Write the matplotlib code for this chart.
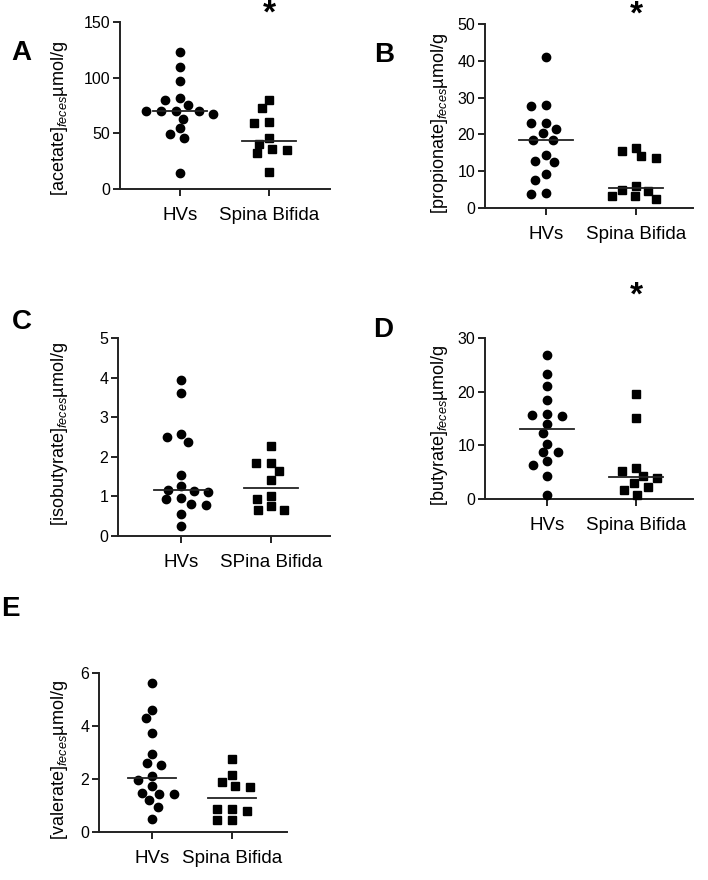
import matplotlib
import numpy as np

matplotlib.use("AGG")

import matplotlib.pyplot as plt  # isort:skip

W, H = 708, 880

plt.rcParams["font.family"] = ["Liberation Sans", "DejaVu Sans"]
plt.rcParams["mathtext.fontset"] = "custom"
plt.rcParams["mathtext.rm"] = "Liberation Sans"
plt.rcParams["mathtext.it"] = "Liberation Sans:italic"

# group labels
GROUPS = ["HVs", "Spina Bifida"]
GROUPS_C = ["HVs", "SPina Bifida"]

# values (umol/g)
acetate_hv = [123, 110, 97, 82, 80, 75, 70, 70, 70, 70, 67, 63, 55, 49, 46, 14]
acetate_sb = [80, 73, 60, 59, 46, 40, 36, 35, 32, 15]

propionate_hv = [41.1, 28.0, 27.8, 23.2, 23.2, 21.4, 20.3, 18.5, 18.4, 14.5,
                 12.9, 12.4, 9.3, 7.7, 4.2, 3.8]
propionate_sb = [16.3, 15.6, 14.0, 13.7, 5.9, 5.0, 4.5, 3.3, 3.2, 2.4]

isobutyrate_hv = [3.95, 3.61, 2.57, 2.50, 2.37, 1.54, 1.26, 1.16, 1.14, 1.10,
                  0.97, 0.93, 0.80, 0.78, 0.56, 0.24]
isobutyrate_sb = [2.28, 1.84, 1.84, 1.65, 1.42, 1.01, 0.93, 0.76, 0.66, 0.66]

butyrate_hv = [26.9, 23.2, 21.0, 18.5, 15.9, 15.7, 15.5, 13.9, 12.3, 10.3,
               8.7, 8.7, 7.1, 6.4, 4.2, 0.8]
butyrate_sb = [19.6, 15.1, 5.8, 5.3, 4.3, 3.9, 2.9, 2.2, 1.7, 0.8]

valerate_hv = [5.62, 4.62, 4.31, 3.75, 2.94, 2.62, 2.51, 2.12, 1.97, 1.74,
               1.49, 1.44, 1.43, 1.19, 0.93, 0.49]
valerate_sb = [2.76, 2.15, 1.90, 1.75, 1.69, 0.86, 0.86, 0.80, 0.46, 0.46]

STAR_PT = 24


def px_rect(left, top, right, bottom):
    return [left / W, 1 - bottom / H, (right - left) / W, (bottom - top) / H]


def swarm_x(ax, values, center, sx=15.0, sy=9.0):
    """Beeswarm offsets (elliptic collision, pixel space) in data units."""
    vals = np.asarray(values, dtype=float)
    pts = ax.transData.transform(np.column_stack([np.full(len(vals), center), vals]))
    ys = pts[:, 1]
    x_scale = ax.transData.transform((1, 0))[0] - ax.transData.transform((0, 0))[0]
    xs = np.zeros(len(vals))
    placed = []
    for i in np.argsort(-ys):
        cands = [0.0]
        for j in placed:
            dy = ys[i] - ys[j]
            if abs(dy) < sy:
                dx = sx * np.sqrt(1 - (dy / sy) ** 2)
                cands += [xs[j] + dx, xs[j] - dx]
        cands.sort(key=lambda c: (abs(c), c))
        for c in cands:
            ok = all(((c - xs[j]) / sx) ** 2 + ((ys[i] - ys[j]) / sy) ** 2 >= 1 - 1e-6
                     for j in placed)
            if ok:
                xs[i] = c
                break
        placed.append(i)
    return center + xs / x_scale


panels = [
    dict(letter="A", ylabel="[acetate]$_{feces}$µmol/g", hv=acetate_hv, sb=acetate_sb,
         yticks=[0, 50, 100, 150], groups=GROUPS, star=(269, 8),
         rect=(120, 22, 330, 189), xlim=(-0.674, 1.685),
         label_xy=(59, 118), letter_xy=(21, 53)),
    dict(letter="B", ylabel="[propionate]$_{feces}$µmol/g", hv=propionate_hv,
         sb=propionate_sb, yticks=[0, 10, 20, 30, 40, 50], groups=GROUPS,
         star=(636, 9), rect=(485, 24, 693, 208), xlim=(-0.678, 1.633),
         label_xy=(439, 123), letter_xy=(384, 55)),
    dict(letter="C", ylabel="[isobutyrate]$_{feces}$µmol/g", hv=isobutyrate_hv,
         sb=isobutyrate_sb, yticks=[0, 1, 2, 3, 4, 5], groups=GROUPS_C, star=None,
         rect=(118, 338, 330, 536), xlim=(-0.70, 1.656),
         label_xy=(59, 434), letter_xy=(22, 322)),
    dict(letter="D", ylabel="[butyrate]$_{feces}$µmol/g", hv=butyrate_hv,
         sb=butyrate_sb, yticks=[0, 10, 20, 30], groups=GROUPS, star=(636, 290),
         rect=(485, 338, 693, 499), xlim=(-0.697, 1.64),
         label_xy=(439, 425), letter_xy=(383, 330)),
    dict(letter="E", ylabel="[valerate]$_{feces}$µmol/g", hv=valerate_hv,
         sb=valerate_sb, yticks=[0, 2, 4, 6], groups=GROUPS, star=None,
         rect=(99, 673, 287, 832), xlim=(-0.66, 1.69),
         label_xy=(60, 760), letter_xy=(10, 609)),
]

fig = plt.figure(figsize=(W / 100, H / 100), dpi=100)

for p in panels:
    ax = fig.add_axes(px_rect(*p["rect"]))
    ax.set_xlim(*p["xlim"])
    ax.set_ylim(p["yticks"][0], p["yticks"][-1])
    for side in ("top", "right"):
        ax.spines[side].set_visible(False)
    for side in ("left", "bottom"):
        ax.spines[side].set_linewidth(1.4)
        ax.spines[side].set_color("#222222")
    ax.set_yticks(p["yticks"])
    ax.set_xticks([0, 1])
    ax.set_xticklabels(p["groups"], fontsize=13.5)
    ax.tick_params(axis="y", labelsize=11.5, length=5, width=1.4, pad=2,
                   color="#222222")
    ax.tick_params(axis="x", length=5, width=1.4, pad=8, color="#222222")

    for pos, vals, marker, ms in ((0, p["hv"], "o", 6.0), (1, p["sb"], "s", 6.4)):
        xs = swarm_x(ax, vals, pos)
        ax.plot(xs, vals, linestyle="none", marker=marker, markersize=ms,
                color="black", clip_on=False, zorder=3)
        med = np.median(vals)
        ax.plot([pos - 0.3, pos + 0.3], [med, med], color="#222222", lw=1.3,
                zorder=4, clip_on=False)

    lx, ly = p["label_xy"]
    fig.text(lx / W, 1 - ly / H, p["ylabel"], rotation=90, ha="center",
             va="center", fontsize=13)
    tx, ty = p["letter_xy"]
    fig.text(tx / W, 1 - ty / H, p["letter"], ha="center", va="center",
             fontsize=20, fontweight="bold")
    if p["star"] is not None:
        sx, sy = p["star"]
        # asterisk glyph sits high in the em box: anchor on its baseline
        base = sy + 0.45 * STAR_PT * 100 / 72
        fig.text(sx / W, 1 - base / H, "*", ha="center", va="baseline",
                 fontsize=STAR_PT, fontweight="bold")

fig.savefig("out.png", dpi=100, facecolor="white")
plt.close(fig)
